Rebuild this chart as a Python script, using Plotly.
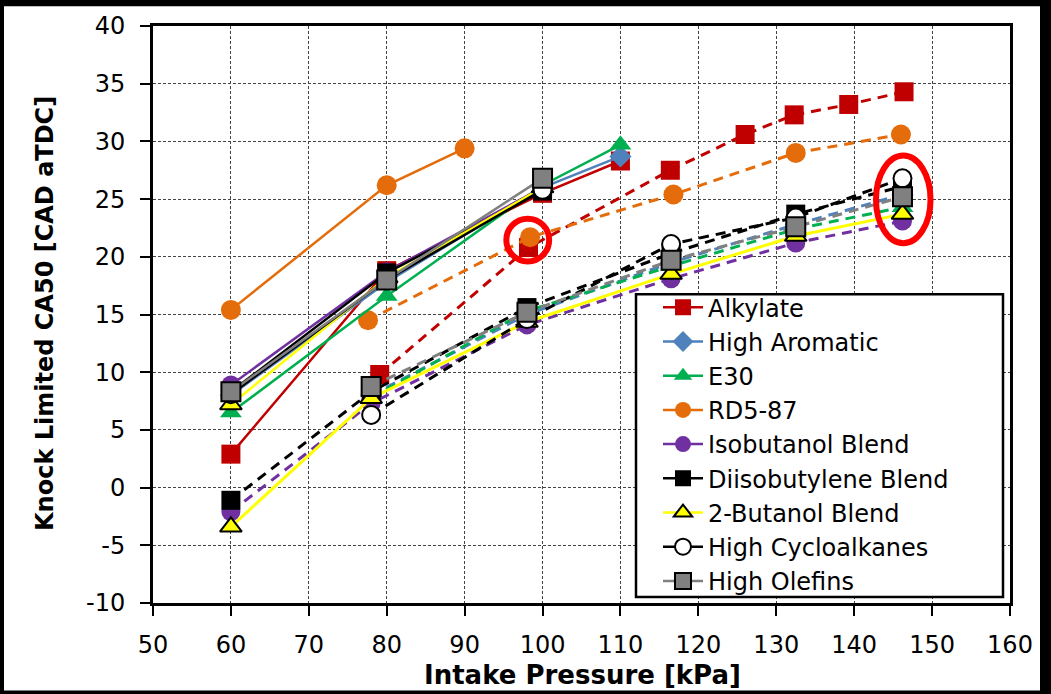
import plotly.graph_objects as go

# ---------------- data ----------------
names = ["Alkylate", "High Aromatic", "E30", "RD5-87", "Isobutanol Blend",
         "Diisobutylene Blend", "2-Butanol Blend", "High Cycloalkanes", "High Olefins"]

# upper (solid) series
alk_up_x = [60, 80, 100, 110]
alk_up_y = [2.9, 18.8, 25.5, 28.3]
ha_up_x = [60, 80, 100, 110]
ha_up_y = [8.0, 17.8, 26.0, 28.7]
e30_up_x = [60, 80, 100, 110]
e30_up_y = [6.5, 16.6, 26.2, 29.7]
rd_up_x = [60, 80, 90]
rd_up_y = [15.4, 26.2, 29.4]
iso_up_x = [60, 80, 100]
iso_up_y = [8.9, 18.7, 26.0]
dib_up_x = [60, 80, 100]
dib_up_y = [8.3, 18.6, 25.7]
but_up_x = [60, 80, 100]
but_up_y = [7.2, 18.2, 26.0]
hc_up_x = [60, 80, 100]
hc_up_y = [8.1, 18.0, 25.8]
ho_up_x = [60, 80, 100]
ho_up_y = [8.3, 18.0, 26.8]

# lower (dashed) series
alk_lo_x = [79.1, 98.2, 116.4, 126.0, 132.3, 139.3, 146.4]
alk_lo_y = [9.8, 20.8, 27.5, 30.6, 32.3, 33.2, 34.3]
ha_lo_x = [78, 98, 116.5, 132.5, 146.2]
ha_lo_y = [8.0, 15.0, 19.5, 22.8, 25.4]
e30_lo_x = [78, 98, 116.5, 132.5, 146.2]
e30_lo_y = [7.8, 15.3, 19.2, 22.4, 24.3]
rd_lo_x = [77.6, 98.4, 116.8, 132.5, 146.0]
rd_lo_y = [14.5, 21.7, 25.4, 29.0, 30.6]
iso_lo_x = [60, 78, 98, 116.5, 132.5, 146.2]
iso_lo_y = [-2.1, 7.3, 14.1, 18.1, 21.2, 23.1]
dib_lo_x = [60, 78, 98, 116.5, 132.5, 146.2]
dib_lo_y = [-1.1, 8.3, 15.6, 20.3, 23.7, 26.1]
but_lo_x = [60, 78, 98, 116.5, 132.5, 146.2]
but_lo_y = [-3.4, 7.75, 14.35, 18.5, 21.8, 23.7]
hc_lo_x = [78, 98, 116.5, 132.5, 146.2]
hc_lo_y = [6.3, 14.6, 21.1, 23.4, 26.8]
ho_lo_x = [78, 98, 116.5, 132.5, 146.2]
ho_lo_y = [8.76, 15.2, 19.7, 22.6, 25.2]

x_ticks = [50, 60, 70, 80, 90, 100, 110, 120, 130, 140, 150, 160]
y_ticks = [-10, -5, 0, 5, 10, 15, 20, 25, 30, 35, 40]

# highlighted points (circle centres and half sizes in data units)
hl1 = dict(x=98.1, y=21.45, dx=2.75, dy=1.85)
hl2 = dict(x=146.3, y=24.97, dx=3.5, dy=3.8)

FONT = "DejaVu Sans"

# ---------------- styles ----------------
styles = {
    "Alkylate": dict(color="#C00000", symbol="square", mfill="#C00000", mline="#C00000", size=19, lodash="dash"),
    "High Aromatic": dict(color="#4F81BD", symbol="diamond", mfill="#4F81BD", mline="#4F81BD", size=17, lodash="dash"),
    "E30": dict(color="#00B050", symbol="triangle-up", mfill="#00B050", mline="#00B050", size=19, lodash="dash"),
    "RD5-87": dict(color="#E46C0A", symbol="circle", mfill="#E46C0A", mline="#E46C0A", size=20, lodash="dash"),
    "Isobutanol Blend": dict(color="#7030A0", symbol="circle", mfill="#7030A0", mline="#7030A0", size=19, lodash="dash"),
    "Diisobutylene Blend": dict(color="#000000", symbol="square", mfill="#000000", mline="#000000", size=19, lodash="dash"),
    "2-Butanol Blend": dict(color="#FFFF00", symbol="triangle-up", mfill="#FFFF00", mline="#000000", size=19, lodash="solid"),
    "High Cycloalkanes": dict(color="#000000", symbol="circle", mfill="#FFFFFF", mline="#000000", size=18, lodash="dash"),
    "High Olefins": dict(color="#808080", symbol="square", mfill="#808080", mline="#000000", size=19, lodash="dash"),
}

upper = [(alk_up_x, alk_up_y), (ha_up_x, ha_up_y), (e30_up_x, e30_up_y), (rd_up_x, rd_up_y),
         (iso_up_x, iso_up_y), (dib_up_x, dib_up_y), (but_up_x, but_up_y), (hc_up_x, hc_up_y),
         (ho_up_x, ho_up_y)]
lower = [(alk_lo_x, alk_lo_y), (ha_lo_x, ha_lo_y), (e30_lo_x, e30_lo_y), (rd_lo_x, rd_lo_y),
         (iso_lo_x, iso_lo_y), (dib_lo_x, dib_lo_y), (but_lo_x, but_lo_y), (hc_lo_x, hc_lo_y),
         (ho_lo_x, ho_lo_y)]

fig = go.Figure()

def marker(s):
    lw = 2 if s["mline"] != s["mfill"] else 0
    return dict(symbol=s["symbol"], size=s["size"], color=s["mfill"],
                line=dict(color=s["mline"], width=lw))

for name, (xs, ys) in zip(names, lower):
    s = styles[name]
    dash = "10px,7px" if s["lodash"] == "dash" else "solid"
    fig.add_trace(go.Scatter(x=xs, y=ys, mode="lines+markers", name=name, legendgroup=name,
                             showlegend=False,
                             line=dict(color=s["color"], width=3, dash=dash),
                             marker=marker(s)))

for name, (xs, ys) in zip(names, upper):
    s = styles[name]
    fig.add_trace(go.Scatter(x=xs, y=ys, mode="lines+markers", name=name, legendgroup=name,
                             showlegend=True,
                             line=dict(color=s["color"], width=2.5),
                             marker=marker(s)))

# plot area in pixels: left 153, right 1010, top 22, bottom 603
W, H = 1051, 694
L, R, T, B = 153, 1010, 22, 603
def px(xp):
    return (xp - L) / (R - L)
def py(yp):
    return (B - yp) / (B - T)

shapes = [
    dict(type="rect", xref="paper", yref="paper", x0=px(4), x1=px(1040), y0=py(691), y1=py(2),
         fillcolor="white", line=dict(width=0), layer="below"),
    # legend frame
    dict(type="rect", xref="paper", yref="paper", x0=px(636), x1=px(1003), y0=py(597), y1=py(292),
         fillcolor="white", line=dict(color="black", width=2.5), layer="above"),
    dict(type="circle", xref="x", yref="y",
         x0=hl1["x"] - hl1["dx"], x1=hl1["x"] + hl1["dx"],
         y0=hl1["y"] - hl1["dy"], y1=hl1["y"] + hl1["dy"],
         line=dict(color="#FF0000", width=6)),
    dict(type="circle", xref="x", yref="y",
         x0=hl2["x"] - hl2["dx"], x1=hl2["x"] + hl2["dx"],
         y0=hl2["y"] - hl2["dy"], y1=hl2["y"] + hl2["dy"],
         line=dict(color="#FF0000", width=6)),
]

annotations = [
    dict(text="<b>Intake Pressure [kPa]</b>", xref="paper", yref="paper",
         x=px(582), y=py(676), showarrow=False, xanchor="center", yanchor="middle",
         font=dict(family=FONT, size=26, color="black")),
    dict(text="<b>Knock Limited CA50 [CAD aTDC]</b>", xref="paper", yref="paper",
         x=px(45), y=py(312), showarrow=False, xanchor="center", yanchor="middle", textangle=-90,
         font=dict(family=FONT, size=24, color="black")),
]

fig.update_layout(
    width=W, height=H,
    margin=dict(l=L, r=W - R, t=T, b=H - B, pad=0),
    paper_bgcolor="black",
    plot_bgcolor="white",
    shapes=shapes,
    annotations=annotations,
    font=dict(family=FONT, color="black"),
    legend=dict(x=px(656), y=py(281), xanchor="left", yanchor="top",
                bgcolor="rgba(0,0,0,0)", bordercolor="rgba(0,0,0,0)", borderwidth=2,
                font=dict(family=FONT, size=24, color="black"),
                tracegroupgap=0, itemwidth=40),
    showlegend=True,
)

fig.update_xaxes(range=[50, 160], tickvals=x_ticks, ticktext=[str(v) for v in x_ticks],
                 showline=True, linecolor="black", linewidth=3, mirror=True,
                 ticks="outside", ticklen=10, tickwidth=1.5, tickcolor="black",
                 showgrid=True, gridcolor="#444444", gridwidth=1, griddash="3px,2px",
                 zeroline=False, tickfont=dict(family=FONT, size=24, color="black"),
                 ticklabelstandoff=8)
fig.update_yaxes(range=[-10, 40], tickvals=y_ticks, ticktext=[str(v) for v in y_ticks],
                 showline=True, linecolor="black", linewidth=3, mirror=True,
                 ticks="outside", ticklen=10, tickwidth=1.5, tickcolor="black",
                 showgrid=True, gridcolor="#444444", gridwidth=1, griddash="3px,2px",
                 zeroline=False, tickfont=dict(family=FONT, size=24, color="black"),
                 ticklabelstandoff=10)

fig.write_html("out.html", config={"displayModeBar": False},
               post_script="document.body.style.margin='0px';document.body.style.overflow='hidden';")
